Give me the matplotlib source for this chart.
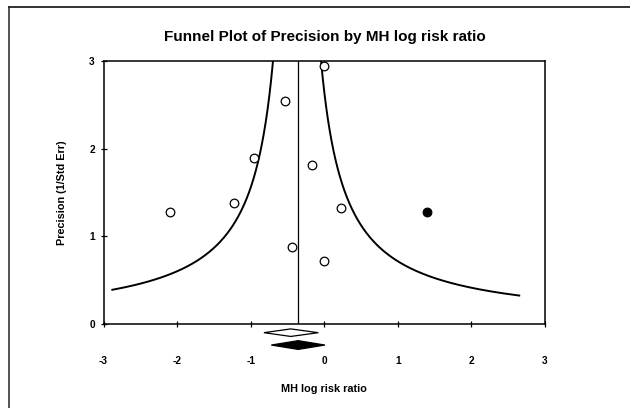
import matplotlib
matplotlib.use("Agg")
import matplotlib.pyplot as plt
import numpy as np
from matplotlib.lines import Line2D
from matplotlib.patches import Polygon

plt.rcParams['font.family'] = ['Liberation Sans', 'DejaVu Sans']

# Data
study_x = [-2.09, -1.23, -0.95, -0.54, -0.44, -0.01, -0.16, -0.01, 0.23]
study_y = [1.28, 1.38, 1.89, 2.54, 0.875, 2.94, 1.81, 0.715, 1.32]
imputed_x = [1.39]
imputed_y = [1.28]
pooled_effect = -0.355
funnel_center = -0.37
funnel_c = 0.98
funnel_left_end = -2.88
funnel_right_end = 2.65
observed_diamond = [-0.82, -0.455, -0.08]   # lower, point, upper
adjusted_diamond = [-0.72, -0.355, 0.01]
xticks = [-3, -2, -1, 0, 1, 2, 3]
yticks = [0, 1, 2, 3]

W, H = 630, 408
fig = plt.figure(figsize=(W / 100, H / 100), dpi=100)
ax_l, ax_r, ax_t, ax_b = 103.5, 545, 61, 324
ax = fig.add_axes([ax_l / W, 1 - ax_b / H, (ax_r - ax_l) / W, (ax_b - ax_t) / H])
ax.set_xlim(-3, 3)
ax.set_ylim(0, 3)

# figure frame (left and top)
fig.add_artist(Line2D([8.5 / W, 8.5 / W], [0, 1 - 6.5 / H], transform=fig.transFigure, color='#444444', lw=1.3))
fig.add_artist(Line2D([8.5 / W, 1], [1 - 6.5 / H, 1 - 6.5 / H], transform=fig.transFigure, color='#222222', lw=1.3))

# funnel
yl = np.linspace(funnel_c / (funnel_center - funnel_left_end), 3.5, 400)
ax.plot(funnel_center - funnel_c / yl, yl, color='black', lw=1.4)
yr = np.linspace(funnel_c / (funnel_right_end - funnel_center), 3.5, 400)
ax.plot(funnel_center + funnel_c / yr, yr, color='black', lw=1.4)

ax.plot([pooled_effect, pooled_effect], [0, 3], color='black', lw=0.9)

ax.plot(study_x, study_y, 'o', mfc='white', mec='black', ms=6.2, mew=0.9, clip_on=False)
ax.plot(imputed_x, imputed_y, 'o', mfc='black', mec='black', ms=6.2, mew=0.9)

# diamonds below axis
def diamond(vals, yc, hh, filled):
    lo, pt, hi = vals
    poly = Polygon([[lo, yc], [pt, yc + hh], [hi, yc], [pt, yc - hh]], closed=True,
                   facecolor='black' if filled else 'white', edgecolor='black', lw=0.9,
                   clip_on=False)
    ax.add_patch(poly)

diamond(observed_diamond, -0.099, 0.043, False)
diamond(adjusted_diamond, -0.24, 0.05, True)

ax.set_xticks(xticks)
ax.set_yticks(yticks)
ax.set_xticklabels([str(t) for t in xticks], fontsize=7.3, fontweight='bold')
ax.set_yticklabels([str(t) for t in yticks], fontsize=7.3, fontweight='bold')
ax.tick_params(axis='x', direction='inout', length=4, width=0.9, pad=21)
ax.tick_params(axis='y', direction='inout', length=4, width=0.9, pad=4.3)
for s in ax.spines.values():
    s.set_linewidth(1.1)

ax.set_xlabel('MH log risk ratio', fontsize=7.8, fontweight='bold')
ax.xaxis.set_label_coords(0.5, (ax_b - 389) / (ax_b - ax_t))
ax.set_ylabel('Precision (1/Std Err)', fontsize=7.8, fontweight='bold')
ax.yaxis.set_label_coords((62 - ax_l) / (ax_r - ax_l), 0.5)
ax.xaxis.label.set_va('center')
ax.yaxis.label.set_va('center')

fig.text(324.5 / W, 1 - 37 / H, 'Funnel Plot of Precision by MH log risk ratio',
         ha='center', va='center', fontsize=11, fontweight='bold')

fig.savefig('out.png', dpi=100)
